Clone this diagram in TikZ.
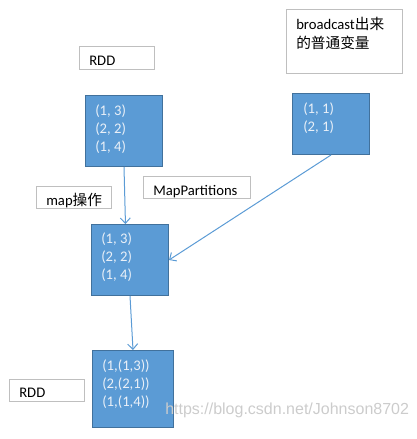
\documentclass[tikz,border=0pt]{standalone}
\usepackage{fontspec}
\setmainfont{Carlito}
\newfontfamily\cjk{Noto Sans CJK SC}
\newfontfamily\wmfont{Liberation Sans}
\usetikzlibrary{arrows.meta}
\definecolor{boxblue}{HTML}{5B9BD5}
\definecolor{boxedge}{HTML}{41719C}
\definecolor{taggray}{HTML}{BFBFBF}
\definecolor{valtext}{HTML}{EAF0F8}
\tikzstyle{block}=[draw=boxedge, fill=boxblue, line width=.75pt, anchor=north west, inner sep=0pt]
\tikzstyle{tag}=[draw=taggray, line width=.75pt, anchor=north west, inner sep=0pt]
\tikzstyle{values}=[text=valtext, align=left, inner sep=0pt, anchor=base west, font=\fontsize{11pt}{13.5pt}\selectfont]
\tikzstyle{caption}=[align=left, inner sep=0pt, anchor=base west, font=\fontsize{11pt}{14pt}\selectfont]
\tikzstyle{flow}=[draw=boxblue, line width=.75pt, -{Straight Barb[length=4pt,width=7.5pt]}]

\begin{document}
\begin{tikzpicture}[x=0.75pt, y=-0.75pt]
\useasboundingbox (0,0) rectangle (417,439);
% frames
\draw (79,46) node[tag, minimum width=56.25pt, minimum height=17.25pt] (T1) {};
\draw (286,9) node[tag, minimum width=87pt, minimum height=48pt] (T2) {};
\draw (36,186) node[tag, minimum width=56.25pt, minimum height=16.5pt] (T3) {};
\draw (143,176) node[tag, minimum width=80.25pt, minimum height=16.5pt] (T4) {};
\draw (9,379) node[tag, minimum width=56.25pt, minimum height=16.5pt] (T5) {};
\draw (85,95) node[block, minimum width=57.75pt, minimum height=53.25pt] (D1) {};
\draw (292,93) node[block, minimum width=57.75pt, minimum height=45.75pt] (V) {};
\draw (91,224) node[block, minimum width=57.75pt, minimum height=53.25pt] (D2) {};
\draw (92,350) node[block, minimum width=60.75pt, minimum height=57.75pt] (D3) {};
% texts (base anchor = last line)
\draw (89,65) node[caption] (L1) {RDD};
\draw (296,48) node[caption] (L2) {broadcast{\cjk 出来}\\{\cjk 的普通变量}};
\draw (46,205) node[caption] (L3) {map{\cjk 操作}};
\draw (153,195) node[caption] (L4) {MapPartitions};
\draw (19,397) node[caption] (L5) {RDD};
\draw (95,151) node[values] (P1) {(1, 3)\\(2, 2)\\(1, 4)};
\draw (303,131) node[values] (P2) {(1, 1)\\(2, 1)};
\draw (101,279) node[values] (P3) {(1, 3)\\(2, 2)\\(1, 4)};
\draw (102,406) node[values] (P4) {(1,(1,3))\\(2,(2,1))\\(1,(1,4))};
% arrows
\draw[flow] (D1.south) -- ([xshift=-3.4pt]D2.north);
\draw[flow] (V.south) -- (D2.east);
\draw[flow] (D2.south) -- (D3.north);
\draw (165,410) node[anchor=west, inner sep=0pt, text=gray!40, font=\wmfont\fontsize{12pt}{14pt}\selectfont] (W) {https://blog.csdn.net/Johnson8702};
\end{tikzpicture}
\end{document}
